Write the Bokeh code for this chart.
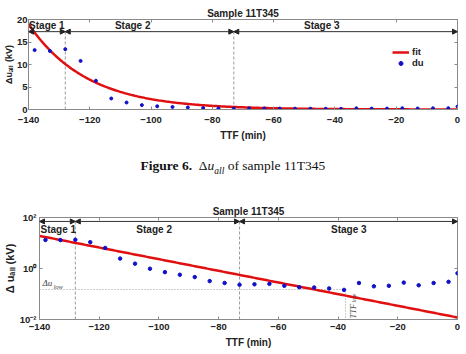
import numpy as np
from bokeh.plotting import figure
from bokeh.models import (Arrow, NormalHead, Label, Range1d, LinearAxis, LogAxis,
                          CustomJSTickFormatter, FixedTicker, Legend, LegendItem, Div,
                          ColumnDataSource)
from bokeh.embed import file_html
from bokeh.resources import INLINE

# ---------------- data ----------------
ttf = [-138, -133, -128, -123, -118, -113, -108, -103, -98, -93, -88, -83, -78, -73,
       -68, -63, -58, -53, -48, -43, -38, -33, -28, -23, -18, -13, -8, -3, 0]
du = [13.2, 13.0, 13.4, 10.8, 6.4, 2.45, 1.55, 0.98, 0.72, 0.57, 0.46, 0.32, 0.27, 0.23,
      0.24, 0.25, 0.21, 0.185, 0.18, 0.165, 0.145, 0.27, 0.20, 0.21, 0.28, 0.22, 0.27, 0.30, 0.65]
# exponential fit parameters: du_fit = fit_a * exp(fit_b * (ttf + 140))
fit_a = 19.0
fit_b = -0.0526
stage_bounds = [-140, -128, -73, 0]
stage_names = ["Stage 1", "Stage 2", "Stage 3"]
du_low = 0.15
ttf_low = -37.5
x_ticks = [-140, -120, -100, -80, -60, -40, -20, 0]
y_ticks_lin = [0, 5, 10, 15, 20]
y_ticks_log = [0.01, 1, 100]

t_fit = np.linspace(-140, 0, 300)
du_fit = fit_a * np.exp(fit_b * (t_fit + 140))

src = ColumnDataSource(dict(t=ttf, du=du))
fit_src = ColumnDataSource(dict(t=t_fit, y=du_fit))

FONT = "Liberation Sans"
RED = "#e01010"
BLUE = "#1010c8"
GRAY = "#8a8a8a"
TXT = "#222222"


def style(p, xt, yt, xlabel, ylabel):
    xa, ya = p.xaxis[0], p.yaxis[0]
    p.outline_line_color = GRAY
    p.outline_line_width = 1
    p.grid.visible = False
    for ax in (xa, ya):
        ax.axis_line_color = GRAY
        ax.major_tick_line_color = GRAY
        ax.major_tick_in = 3
        ax.major_tick_out = 0
        ax.minor_tick_line_color = None
        ax.major_label_text_font = FONT
        ax.major_label_text_font_style = "bold"
        ax.major_label_text_font_size = "9.5px"
        ax.major_label_text_color = TXT
        ax.axis_label_text_font = FONT
        ax.axis_label_text_font_style = "bold"
        ax.axis_label_text_color = TXT
        ax.axis_label_text_font_size = "10px"
    xa.ticker = FixedTicker(ticks=xt)
    ya.ticker = FixedTicker(ticks=yt)
    xa.major_label_standoff = 4
    xa.axis_label_standoff = 2
    ya.major_label_standoff = 3
    ya.axis_label_standoff = 1
    xa.axis_label = xlabel
    ya.axis_label = ylabel
    p.title.text_font = FONT
    p.title.text_font_size = "10px"
    p.title.text_font_style = "bold"
    p.title.text_color = TXT
    p.title.align = "center"
    p.title.standoff = 1
    return xa, ya


def box_axes(p, xt, yt, log=False):
    top = LinearAxis(ticker=FixedTicker(ticks=xt))
    right = (LogAxis if log else LinearAxis)(ticker=FixedTicker(ticks=yt))
    for ax in (top, right):
        ax.major_label_text_font_size = "1px"
        ax.major_label_text_alpha = 0
        ax.major_label_standoff = 0
        ax.axis_line_color = None
        ax.major_tick_line_color = GRAY
        ax.major_tick_in = 3
        ax.major_tick_out = 0
        ax.minor_tick_line_color = None
    p.add_layout(top, "above")
    p.add_layout(right, "right")


def stages(p, arrow_y, label_y, label_x, bottom_y):
    for i in range(3):
        p.add_layout(Arrow(x_start=stage_bounds[i], x_end=stage_bounds[i + 1],
                           y_start=arrow_y, y_end=arrow_y, line_color="#333333", line_width=1,
                           start=NormalHead(size=5, fill_color="#222222", line_color="#222222", line_width=1),
                           end=NormalHead(size=5, fill_color="#222222", line_color="#222222", line_width=1)))
        p.add_layout(Label(x=label_x[i], y=label_y, text=stage_names[i], text_align="center",
                           text_baseline="middle", text_font=FONT, text_font_style="bold",
                           text_font_size="10px", text_color=TXT))
    p.segment(x0=stage_bounds[1:3], x1=stage_bounds[1:3], y0=[bottom_y] * 2, y1=[arrow_y] * 2,
              line_color="#9a9a9a", line_dash="3 2", line_width=1)


# ---------------- figure 1 (linear) ----------------
p1 = figure(width=466, height=145, x_range=Range1d(-140, 0), y_range=Range1d(0, 20),
            output_backend="svg", toolbar_location=None, title="Sample 11T345",
            min_border_left=24, min_border_right=9, min_border_top=19, min_border_bottom=36)
xa1, ya1 = style(p1, x_ticks, y_ticks_lin, "TTF (min)", "Δuₐₗₗ (kV)")
xa1.major_label_standoff = 7
xa1.axis_label_standoff = 4
ya1.major_label_standoff = 1
ya1.axis_label_standoff = 0
ya1.axis_label_text_font_size = "9px"
box_axes(p1, x_ticks, y_ticks_lin)
stages(p1, 17.3, 18.65, [-134, -106, -44.3], 0)
r_fit1 = p1.line("t", "y", source=fit_src, line_color=RED, line_width=2.5)
r_du1 = p1.scatter("t", "du", source=src, size=3, color=BLUE)
leg = Legend(items=[LegendItem(label="fit", renderers=[r_fit1]),
                    LegendItem(label="du", renderers=[r_du1])],
             location=(364, 41), border_line_alpha=0, background_fill_alpha=0,
             padding=0, margin=0, spacing=0, glyph_width=17, glyph_height=10,
             label_standoff=3, label_text_font=FONT, label_text_font_style="bold",
             label_text_font_size="9.5px", label_text_color=TXT, label_height=11)
p1.add_layout(leg)

# ---------------- caption ----------------
caption = Div(text=('<div style="width:466px;text-align:center;margin-top:11px;'
                    'font-family:\'Liberation Serif\';font-size:13.5px;color:#111">'
                    '<b>Figure 6.</b>&nbsp;&nbsp;Δ<i>u</i><sub style="font-size:70%"><i>all</i></sub>'
                    ' of sample 11T345</div>'),
              width=466, height=45, margin=0)

# ---------------- figure 2 (log) ----------------
p2 = figure(width=466, height=164, x_range=Range1d(-140, 0), y_range=Range1d(0.01, 100),
            y_axis_type="log", output_backend="svg", toolbar_location=None,
            title="Sample 11T345",
            min_border_left=37, min_border_right=9, min_border_top=27, min_border_bottom=35)
xa2, ya2 = style(p2, x_ticks, y_ticks_log, "TTF (min)", "Δ uₐₗₗ (kV)")
xa2.axis_label_standoff = 4
ya2.formatter = CustomJSTickFormatter(code="""
const sup = {"-": "\u207b", "0": "\u2070", "1": "\u00b9", "2": "\u00b2", "3": "\u00b3"};
const e = Math.round(Math.log10(tick));
return "10" + String(e).split("").map(c => sup[c]).join("");
""")
ya2.axis_label_text_font_size = "11px"
box_axes(p2, x_ticks, y_ticks_log, log=True)
stages(p2, 70, 34, [-133.7, -101.6, -36.4], 0.01)
# threshold lines
p2.segment(x0=[-140, ttf_low], x1=[ttf_low, ttf_low], y0=[du_low, du_low], y1=[du_low, 0.01],
           line_color="#9a9a9a", line_dash="1 2", line_width=1)
p2.line("t", "y", source=fit_src, line_color=RED, line_width=2.5)
p2.scatter("t", "du", source=src, size=3.5, color=BLUE)
p2.add_layout(Label(x=-139, y=du_low, y_offset=2, text="Δu", text_font="Liberation Serif",
                    text_font_style="italic", text_font_size="9px", text_color="#444444",
                    text_baseline="bottom"))
p2.add_layout(Label(x=-139, y=du_low, x_offset=11, y_offset=0, text="low", text_font="Liberation Serif",
                    text_font_style="italic", text_font_size="6.5px", text_color="#444444",
                    text_baseline="bottom"))
p2.add_layout(Label(x=ttf_low, y=0.01, x_offset=2, y_offset=1, angle=np.pi / 2, text="TTF",
                    text_font="Liberation Serif", text_font_style="italic", text_font_size="8.5px",
                    text_color="#444444", text_baseline="top"))
p2.add_layout(Label(x=ttf_low, y=0.01, x_offset=5, y_offset=17, angle=np.pi / 2, text="low",
                    text_font="Liberation Serif", text_font_style="italic", text_font_size="6px",
                    text_color="#444444", text_baseline="top"))

# separate roots, stacked vertically, so each panel keeps its own frame geometry
open("out.html", "w").write(file_html([p1, caption, p2], INLINE))
